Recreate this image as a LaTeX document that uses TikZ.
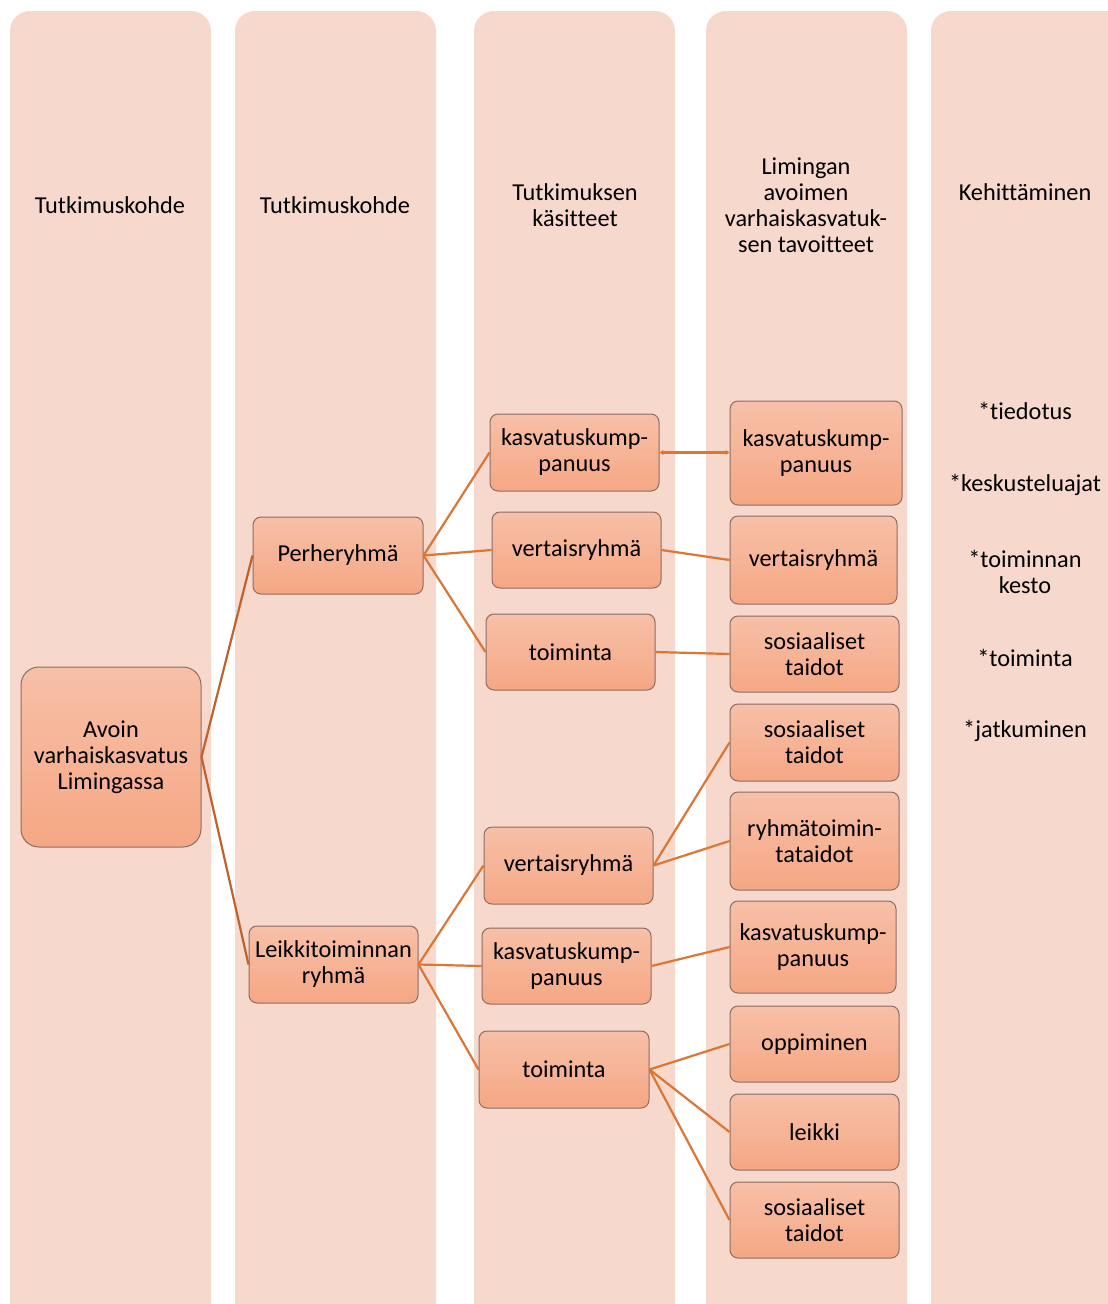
\documentclass[tikz,border=0pt]{standalone}
\usepackage{fontspec}
\setmainfont{Carlito}[Ligatures={NoCommon}]
\usetikzlibrary{arrows.meta}
\begin{document}
\begin{tikzpicture}[x=1pt,y=-1pt,
  colbg/.style={fill=colfill,draw=none,rounded corners=20pt},
  hdr/.style={align=center,font=\fontsize{24.3}{26}\selectfont,inner sep=0pt},
  item/.style={align=center,font=\fontsize{24.3}{26}\selectfont,inner sep=0pt},
  box/.style={draw=boxborder,line width=1pt,rounded corners=8pt,top color=boxtop,bottom color=boxbot,
    align=center,font=\fontsize{24.3}{26}\selectfont,inner sep=0pt},
  conn/.style={draw=lineor,line width=2.2pt},
  conndk/.style={draw=linedk,line width=2.2pt}
]
\definecolor{colfill}{HTML}{F7D8CD}
\definecolor{boxtop}{HTML}{F7C0A8}
\definecolor{boxbot}{HTML}{F5A784}
\definecolor{boxborder}{HTML}{8C6D64}
\definecolor{lineor}{HTML}{DB7634}
\definecolor{linedk}{HTML}{C0622C}
\useasboundingbox (0,0) rectangle (1108,1304);
\fill[white] (0,0) rectangle (1108,1304);
% columns
\path[colbg] (10,11) rectangle (211,1326);
\path[colbg] (235,11) rectangle (436,1326);
\path[colbg] (474,11) rectangle (675,1326);
\path[colbg] (706,11) rectangle (907,1326);
\path[colbg] (931,11) rectangle (1140,1326);
% headers
\node[hdr] (h1) at (110,205) {Tutkimuskohde};
\node[hdr] (h2) at (335,205) {Tutkimuskohde};
\node[hdr] (h3) at (575,205) {Tutkimuksen\\käsitteet};
\node[hdr] (h4) at (806,205) {Limingan\\avoimen\\varhaiskasvatuk-\\sen tavoitteet};
\node[hdr] (h5) at (1025,192) {Kehittäminen};
% column 5 items
\node[item] (k1) at (1025,411) {*tiedotus};
\node[item] (k2) at (1025,485) {*keskusteluajat};
\node[item] (k3) at (1025,572) {*toiminnan\\kesto};
\node[item] (k4) at (1025,658) {*toiminta};
\node[item] (k5) at (1025,731) {*jatkuminen};
% boxes
\node[box,rounded corners=18pt,minimum width=180pt,minimum height=180pt] (avoin) at (111,757) {Avoin\\varhaiskasvatus\\Limingassa};
\node[box,minimum width=170pt,minimum height=77pt] (perhe) at (338,555.5) {Perheryhmä};
\node[box,minimum width=169pt,minimum height=77pt] (leikki) at (333.5,964.5) {Leikkitoiminnan\\ryhmä};
% column 3
\node[box,minimum width=169pt,minimum height=77pt] (c3a) at (574.5,452.5) {kasvatuskump-\\panuus};
\node[box,minimum width=169pt,minimum height=76pt] (c3b) at (576.5,550) {vertaisryhmä};
\node[box,minimum width=169pt,minimum height=76pt] (c3c) at (570.5,652) {toiminta};
\node[box,minimum width=169pt,minimum height=77pt] (c3d) at (568.5,865.5) {vertaisryhmä};
\node[box,minimum width=169pt,minimum height=76pt] (c3e) at (566.5,966) {kasvatuskump-\\panuus};
\node[box,minimum width=170pt,minimum height=77pt] (c3f) at (564,1069.5) {toiminta};
% column 4
\node[box,minimum width=172pt,minimum height=104pt] (c4a) at (816,453) {kasvatuskump-\\panuus};
\node[box,minimum width=167pt,minimum height=88pt] (c4b) at (813.5,560) {vertaisryhmä};
\node[box,minimum width=169pt,minimum height=76pt] (c4c) at (814.5,654) {sosiaaliset\\taidot};
\node[box,minimum width=169pt,minimum height=77pt] (c4d) at (814.5,742.5) {sosiaaliset\\taidot};
\node[box,minimum width=169pt,minimum height=98pt] (c4e) at (814.5,841) {ryhmätoimin-\\tataidot};
\node[box,minimum width=166pt,minimum height=92pt] (c4f) at (813,947) {kasvatuskump-\\panuus};
\node[box,minimum width=169pt,minimum height=76pt] (c4g) at (814.5,1044) {oppiminen};
\node[box,minimum width=169pt,minimum height=76pt] (c4h) at (814.5,1132) {leikki};
\node[box,minimum width=169pt,minimum height=76pt] (c4i) at (814.5,1220) {sosiaaliset\\taidot};
% connectors
\draw[conndk] (avoin.east) -- (perhe.west);
\draw[conndk] (avoin.east) -- (leikki.west);
\draw[conn] (perhe.east) -- (c3a.west);
\draw[conn] (perhe.east) -- (c3b.west);
\draw[conn] (perhe.east) -- (c3c.west);
\draw[conn] (leikki.east) -- (c3d.west);
\draw[conn] (leikki.east) -- (c3e.west);
\draw[conn] (leikki.east) -- (c3f.west);
\draw[conn,{Stealth[length=4pt,width=5pt]}-{Stealth[length=4pt,width=5pt]}] (c3a.east) -- (c4a.west |- c3a.east);
\draw[conn] (c3b.east) -- (c4b.west);
\draw[conn] (c3c.east) -- (c4c.west);
\draw[conn] (c3d.east) -- (c4d.west);
\draw[conn] (c3d.east) -- (c4e.west);
\draw[conn] (c3e.east) -- (c4f.west);
\draw[conn] (c3f.east) -- (c4g.west);
\draw[conn] (c3f.east) -- (c4h.west);
\draw[conn] (c3f.east) -- (c4i.west);
\end{tikzpicture}
\end{document}
